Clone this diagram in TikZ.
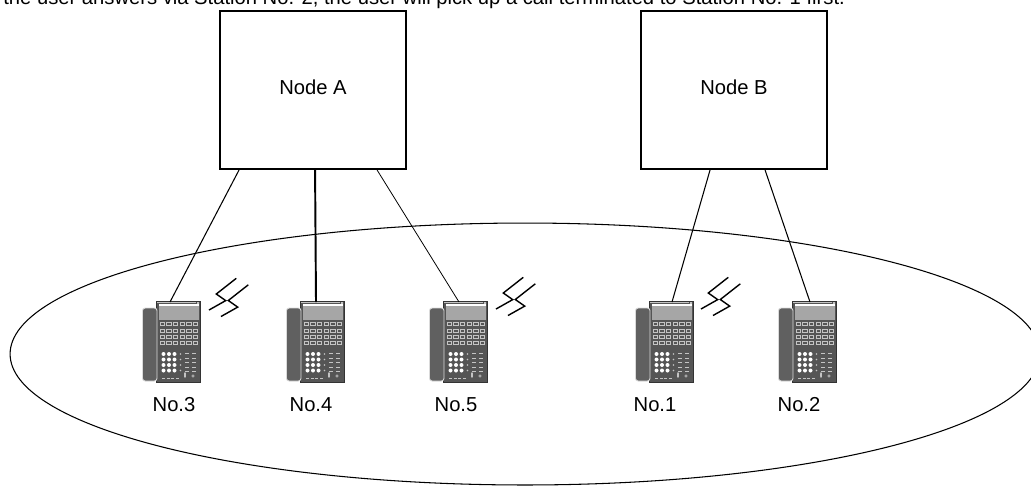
\documentclass[tikz,border=0pt]{standalone}
\usepackage{fontspec}
\setmainfont{Liberation Sans}
\usepackage{xcolor}
\usepackage{tikz}
\usetikzlibrary{calc}

\definecolor{phonebody}{HTML}{555555}
\definecolor{phonedark}{HTML}{333333}
\definecolor{phonescreen}{HTML}{A6A6A6}
\definecolor{phonekey}{HTML}{C4C4C4}
\definecolor{handset}{HTML}{606060}
\definecolor{handsetedge}{HTML}{DADADA}

\tikzset{
  nodebox/.style={draw, line width=1.1pt, minimum width=3.72cm, minimum height=3.16cm, inner sep=0pt},
  link/.style={line width=0.6pt},
  stlabel/.style={inner sep=0pt},
  sparkline/.style={line width=0.8pt},
  % desk telephone, origin at its top left corner
  deskphone/.pic={
    % body
    \filldraw[fill=phonebody, draw=phonedark, line width=0.4pt] (16,0) rectangle (60,81);
    % handset
    \filldraw[fill=handset, draw=handsetedge, line width=0.5pt, rounded corners=1.5pt] (2.5,7) rectangle (17,80);
    % top strip and lamp
    \draw[phonekey, line width=0.5pt] (17,1.8) -- (55.5,1.8);
    \fill[phonekey] (56.5,0.8) rectangle (59,3);
    % display
    \draw[white, line width=0.6pt] (19,4) -- (59,4);
    \fill[phonescreen] (19,5.2) rectangle (59,18.5);
    % soft keys and line keys
    \foreach \x in {20,26.5,33,40,46.5,53}
      \draw[phonekey, line width=0.35pt] (\x,21.5) rectangle ++(4.5,3);
    \foreach \y in {28,34,40}
      \foreach \x in {20,26.5,33,40,46.5,53}
        \draw[phonekey, line width=0.35pt] (\x,\y) rectangle ++(4.5,3.2);
    % dial pad
    \foreach \y in {53,58.5,64,69.5}
      \foreach \x in {23.5,29,34.5}
        \fill[white] (\x,\y) circle (0.04cm);
    \foreach \y in {53,58.5,64,69.5}
      \fill[phonekey] (40.5,\y) circle (0.016cm);
    % function keys
    \foreach \y in {52,56.5,61,65.5,70} {
      \fill[phonekey] (45,\y) rectangle ++(4,1.3);
      \fill[phonekey] (51.5,\y) rectangle ++(4,1.3);
    }
    % bottom row
    \foreach \x in {22,26.5,31,35.5}
      \fill[phonekey] (\x,76.5) rectangle ++(3,1.8);
    \fill[phonekey] (45,74) ellipse (0.02cm and 0.06cm);
    \draw[phonekey, line width=0.35pt] (53,75) circle (0.025cm);
    \coordinate (-top) at (32,1);
  },
  % wireless sign
  spark/.pic={
    \draw[sparkline] (0,0) -- ++(16.7,-9.4) -- ++(-9.4,-6.6) -- ++(20,-15.7);
    \draw[sparkline] (12,6.5) -- ++(16.7,-9.4) -- ++(-9.4,-6.6) -- ++(20,-15.7);
  }
}

\begin{document}
\begin{tikzpicture}[x=0.02cm, y=-0.02cm, font=\fontsize{11.5}{14}\selectfont]
    \useasboundingbox (0,0) rectangle (1031,485);
    \clip (0,0) rectangle (1031,485);

    % Text cut off at the top
    \node[anchor=base west, inner sep=0pt] (intro) at (3,4)
      {the user answers via Station No. 2, the user will pick up a call terminated to Station No. 1 first.};

    % Draw the two nodes
    \node[nodebox] (nodeA) at (313,90) {\raisebox{3pt}{Node A}};
    \node[nodebox] (nodeB) at (734,90) {\raisebox{3pt}{Node B}};

    % Draw the area round the stations
    \draw[line width=0.6pt] (525,354) ellipse [x radius=10.3cm, y radius=2.62cm];

    % Draw the stations
    \pic (st3) at (140,301) {deskphone};
    \pic (st4) at (284,301) {deskphone};
    \pic (st5) at (427,301) {deskphone};
    \pic (st1) at (633,301) {deskphone};
    \pic (st2) at (776,301) {deskphone};

    % Label the stations
    \node[stlabel] (lb3) at (174,405) {No.3};
    \node[stlabel] (lb4) at (311,405) {No.4};
    \node[stlabel] (lb5) at (456,405) {No.5};
    \node[stlabel] (lb1) at (655,405) {No.1};
    \node[stlabel] (lb2) at (799,405) {No.2};

    % Wireless signs
    \pic (sp3) at (209,310) {spark};
    \pic (sp5) at (496,309) {spark};
    \pic (sp1) at (701,309) {spark};

    % Draw the lines from the nodes to the stations
    \draw[link] ($(nodeA.south west)+(20,0)$) -- ($(st3-top)+(-2,0)$);
    \draw[line width=1.1pt] ($(nodeA.south west)+(96,0)$) -- (st4-top);
    \draw[line width=0.45pt] ($(nodeA.south west)+(158,0)$) -- (st5-top);
    \draw[link] ($(nodeB.south west)+(70,0)$) -- ($(st1-top)+(7,0)$);
    \draw[link] ($(nodeB.south west)+(125,0)$) -- ($(st2-top)+(2,0)$);
\end{tikzpicture}
\end{document}
